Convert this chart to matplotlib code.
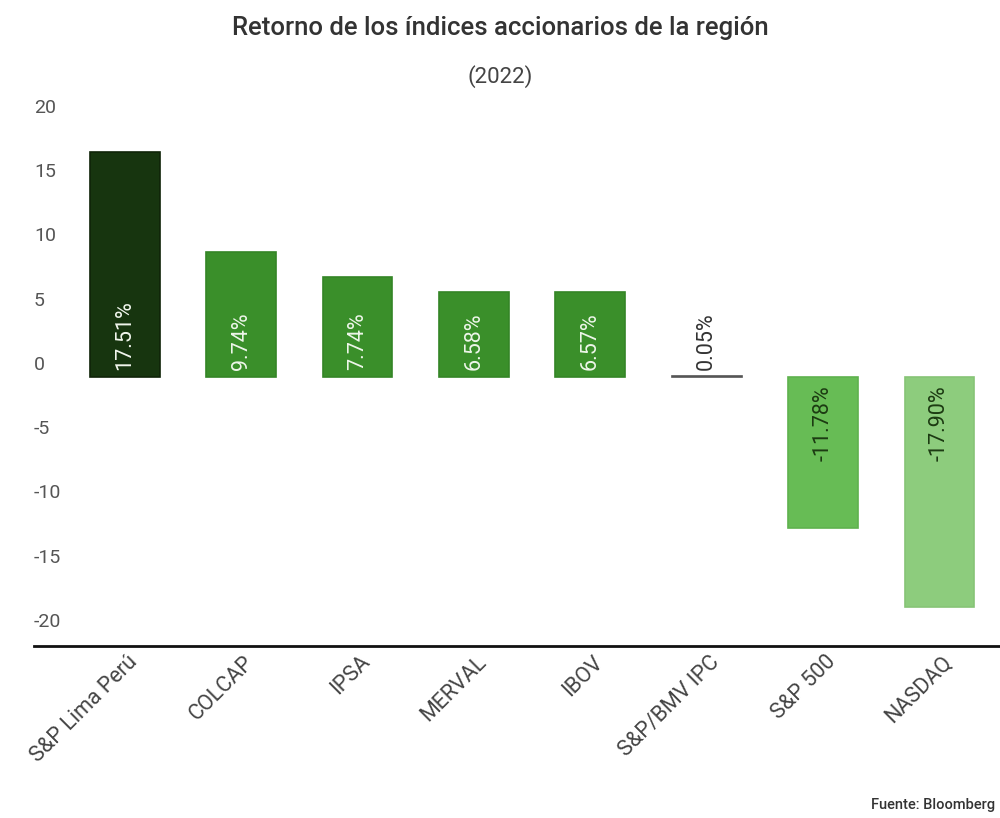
import numpy as np
import matplotlib.pyplot as plt
from matplotlib.transforms import ScaledTranslation

plt.rcParams['font.family'] = ['Roboto', 'DejaVu Sans']

# data
indices = ['S&P Lima Perú', 'COLCAP', 'IPSA', 'MERVAL', 'IBOV', 'S&P/BMV IPC', 'S&P 500', 'NASDAQ']
retornos = [17.51, 9.74, 7.74, 6.58, 6.57, 0.05, -11.78, -17.90]
colores = ['#17350f', '#3a8f2a', '#3a8f2a', '#3a8f2a', '#3a8f2a', '#ffffff', '#67bc55', '#8dcc7d']
bordes = ['#0f2408', '#348526', '#348526', '#348526', '#348526', '#555555', '#5fb24e', '#86c476']
color_texto = ['#f2f7ee', '#eef6ea', '#eef6ea', '#eef6ea', '#eef6ea', '#333333', '#1c3a12', '#1c3a12']
yticks = [20, 15, 10, 5, 0, -5, -10, -15, -20]

fig = plt.figure(figsize=(10, 8.18), dpi=100)
ax = fig.add_axes([0.034, 0.2103, 0.966, 0.6589])

x = np.arange(len(indices))
ax.bar(x, retornos, width=0.6, color=colores, edgecolor=bordes, linewidth=1.2, zorder=2)

for xi, v, c in zip(x, retornos, color_texto):
    if v >= 0:
        ax.annotate(f'{v:.2f}%', (xi, 0), xytext=(0, 7), textcoords='offset pixels',
                    rotation=90, ha='center', va='bottom', fontsize=15.5, color=c)
    else:
        ax.annotate(f'{v:.2f}%', (xi, 0), xytext=(0, -8), textcoords='offset pixels',
                    rotation=90, ha='center', va='top', fontsize=15.5, color=c)

ax.set_xlim(-0.78, 7.52)
ax.set_ylim(-20.93, 21.0)

ax.set_yticks(yticks)
ax.set_yticklabels([str(t) for t in yticks])
ax.tick_params(axis='y', length=0, pad=0, labelsize=14, labelcolor='#555555')
off = ScaledTranslation(0, 0.14, fig.dpi_scale_trans)
for lab in ax.get_yticklabels():
    lab.set_horizontalalignment('left')
    lab.set_transform(lab.get_transform() + off)

ax.set_xticks(x)
ax.set_xticklabels(indices, rotation=45, ha='right', va='top', fontsize=15.5, color='#444444')
ax.tick_params(axis='x', length=0, pad=4)
off_x = ScaledTranslation(0.17, 0, fig.dpi_scale_trans)
for lab in ax.get_xticklabels():
    lab.set_transform(lab.get_transform() + off_x)

for s in ['top', 'right', 'left']:
    ax.spines[s].set_visible(False)
ax.spines['bottom'].set_linewidth(2)
ax.spines['bottom'].set_color('#111111')

fig.text(0.5, 0.966, 'Retorno de los índices accionarios de la región', ha='center', va='center',
         fontsize=18.5, fontweight='medium', color='#333333')
fig.text(0.5, 0.906, '(2022)', ha='center', va='center', fontsize=16, color='#444444')
fig.text(0.995, 0.016, 'Fuente: Bloomberg', ha='right', va='center', fontsize=10.5,
         fontweight='medium', color='#333333')

fig.savefig('out.png', dpi=100)
